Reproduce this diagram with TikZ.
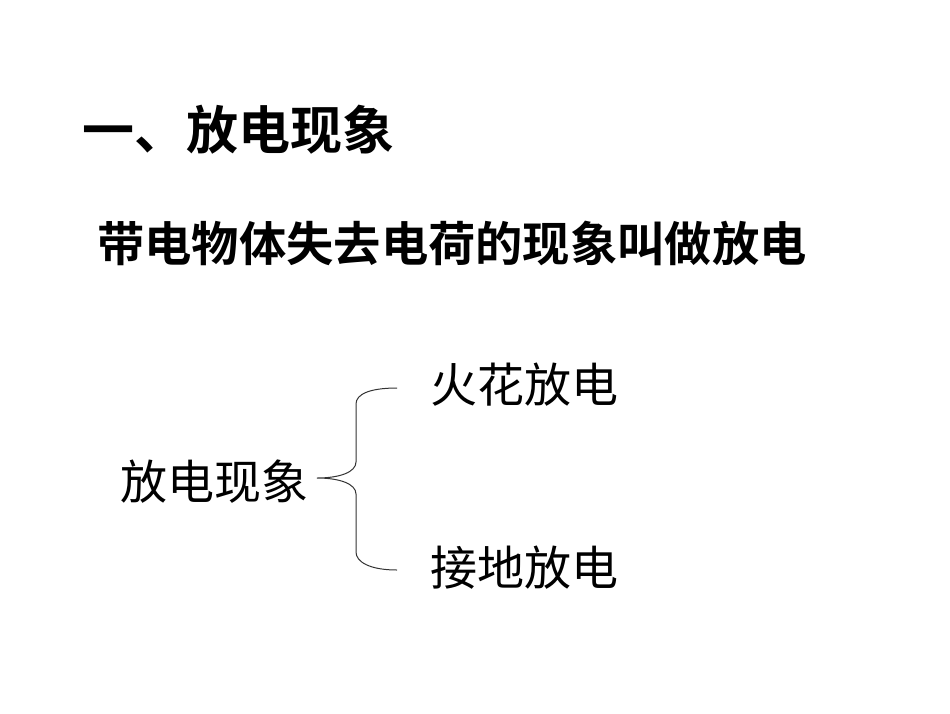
\documentclass[tikz,border=0pt]{standalone}
\usepackage{fontspec}
\newfontfamily\cjk{Noto Sans CJK SC}
\newfontfamily\cjkbold{Noto Sans CJK SC Bold}
\usetikzlibrary{positioning}

\begin{document}
\begin{tikzpicture}[
  x=1pt,y=-1pt,
  txt/.style={anchor=west,inner sep=0pt,font=\cjk\fontsize{47}{47}\selectfont},
  heading/.style={txt,font=\cjkbold\fontsize{52}{52}\selectfont},
  defn/.style={txt,font=\cjkbold\fontsize{47.3}{48}\selectfont},
  brace/.style={line width=1pt,draw=black!80},
]
\useasboundingbox[fill=white] (0,0) rectangle (950,713);

\node[heading] (title) at (82,130) {一、放电现象};
\node[defn] (definition) at (97,243) {带电物体失去电荷的现象叫做放电};
\node[txt] (kinds) at (120,482) {放电现象};
\node[txt] (spark) at (430,385) {火花放电};
\node[txt] (ground) at (430,568) {接地放电};

% brace joining the two kinds
\draw[brace] (397,388) .. controls (370,388) and (356,394) .. (356,404)
  -- (356,462) .. controls (356,472) and (340,478) .. (317,478)
  .. controls (340,478) and (356,484) .. (356,494)
  -- (356,552) .. controls (356,562) and (370,570) .. (397,570);

\end{tikzpicture}
\end{document}
